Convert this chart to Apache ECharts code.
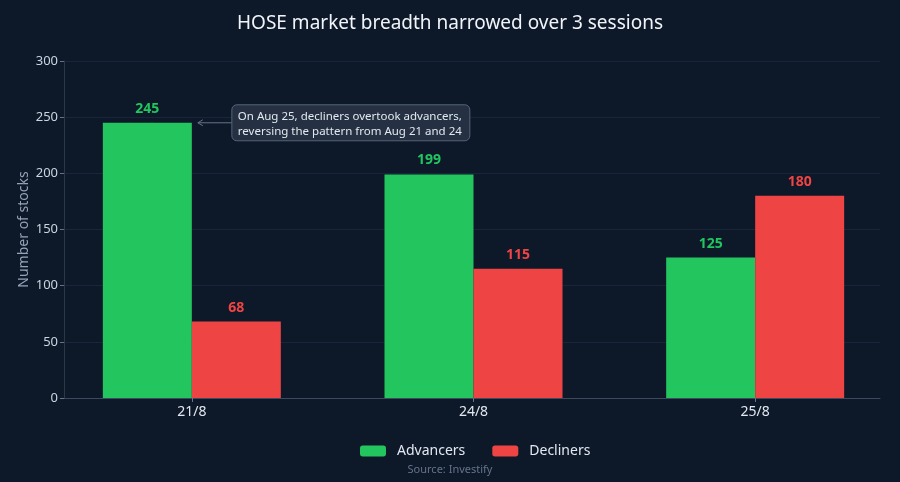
<!DOCTYPE html>
<html><head><meta charset="utf-8">
<script src="https://cdn.jsdelivr.net/npm/echarts@6/dist/echarts.min.js"></script>
<style>html,body{margin:0;padding:0;background:#0d1829;}#c{width:900px;height:482px;}</style>
</head><body><div id="c"></div>
<script>
var categories = ['21/8', '24/8', '25/8'];
var advancers = [245, 199, 125];
var decliners = [68, 115, 180];
var yTicks = [0, 50, 100, 150, 200, 250, 300];
var annotationText = 'On Aug 25, decliners overtook advancers,\nreversing the pattern from Aug 21 and 24';

var FONT = '"Noto Sans", "Open Sans", sans-serif';
var chart = echarts.init(document.getElementById('c'));
var yMin = yTicks[0], yMax = yTicks[yTicks.length - 1];
var option = {
  backgroundColor: '#0d1829',
  textStyle: { fontFamily: FONT },
  title: {
    text: 'HOSE market breadth narrowed over 3 sessions',
    left: 'center', top: 9,
    textStyle: { color: '#f1f5f9', fontSize: 19, fontWeight: 'normal', fontFamily: FONT }
  },
  legend: {
    top: 439, left: 355, itemWidth: 26, itemHeight: 11, itemGap: 27,
    textStyle: { color: '#e2e8f0', fontSize: 14, fontFamily: FONT, padding: [0, 0, 0, 6] },
    data: ['Advancers', 'Decliners']
  },
  grid: [
    { left: 64, right: 20, top: 61, bottom: 84 },
    { left: 51, right: 4, top: 61, bottom: 84 }
  ],
  xAxis: [
    { type: 'value', gridIndex: 0, min: 0, max: 1,
      axisLine: { show: true, onZero: false, lineStyle: { color: '#3b4a5e' } },
      axisTick: { show: false }, axisLabel: { show: false }, splitLine: { show: false } },
    { type: 'category', gridIndex: 1, data: categories,
      axisLine: { show: false },
      axisTick: { show: true, alignWithLabel: true, length: 4, lineStyle: { color: '#64748b' } },
      axisLabel: { color: '#e2e8f0', fontSize: 14, margin: 7, fontFamily: FONT } }
  ],
  yAxis: [
    { type: 'value', gridIndex: 0, min: yMin, max: yMax, interval: 50,
      name: 'Number of stocks', nameLocation: 'middle', nameGap: 33, nameMoveOverlap: false,
      nameTextStyle: { color: '#94a3b8', fontSize: 14, fontFamily: FONT },
      axisLine: { show: true, lineStyle: { color: '#2a3749' } },
      axisTick: { show: true, length: 4, lineStyle: { color: '#64748b' } },
      axisLabel: { color: '#cbd5e1', fontSize: 13, margin: 6, fontFamily: FONT },
      splitLine: { lineStyle: { color: '#18253a', type: 'solid' } } },
    { type: 'value', gridIndex: 1, min: yMin, max: yMax, interval: 50, show: false,
      splitLine: { show: false } }
  ],
  series: [
    {
      name: 'Advancers', type: 'bar', xAxisIndex: 1, yAxisIndex: 1, data: advancers, barWidth: 89, barGap: '0%',
      itemStyle: { color: '#22c55e' },
      label: { show: true, position: 'top', distance: 7, color: '#22c55e', fontSize: 14, fontWeight: 'bold', fontFamily: FONT }
    },
    {
      name: 'Decliners', type: 'bar', xAxisIndex: 1, yAxisIndex: 1, data: decliners, barWidth: 89,
      itemStyle: { color: '#ef4444' },
      label: { show: true, position: 'top', distance: 7, color: '#ef4444', fontSize: 14, fontWeight: 'bold', fontFamily: FONT }
    }
  ]
};
chart.setOption(option);

// annotation anchored to the top of the first advancers bar
var p = chart.convertToPixel({ xAxisIndex: 1, yAxisIndex: 1 }, [0, advancers[0]]);
var barRight = p[0];
var ay = p[1];
var boxX = barRight + 40, boxW = 238, boxH = 36;
chart.setOption({
  graphic: [
    { type: 'text', left: 'center', top: 464, z: 10,
      style: { text: 'Source: Investify', fill: '#64748b', fontSize: 11, fontFamily: FONT } },
    { type: 'line', z: 10, shape: { x1: boxX, y1: ay, x2: barRight + 6, y2: ay },
      style: { stroke: '#64748b', lineWidth: 1 } },
    { type: 'polyline', z: 10, shape: { points: [[barRight + 11, ay - 3], [barRight + 6, ay], [barRight + 11, ay + 3]] },
      style: { stroke: '#64748b', lineWidth: 1, fill: null } },
    { type: 'rect', z: 10, shape: { x: boxX, y: ay - 18, width: boxW, height: boxH, r: 5 },
      style: { fill: '#253142', stroke: '#56657a', lineWidth: 1 } },
    { type: 'text', z: 11, x: boxX + 6, y: ay - 14,
      style: { text: annotationText, fill: '#e2e8f0', fontSize: 11.5, lineHeight: 15, fontFamily: FONT, verticalAlign: 'top', align: 'left' } }
  ]
});
</script></body></html>
